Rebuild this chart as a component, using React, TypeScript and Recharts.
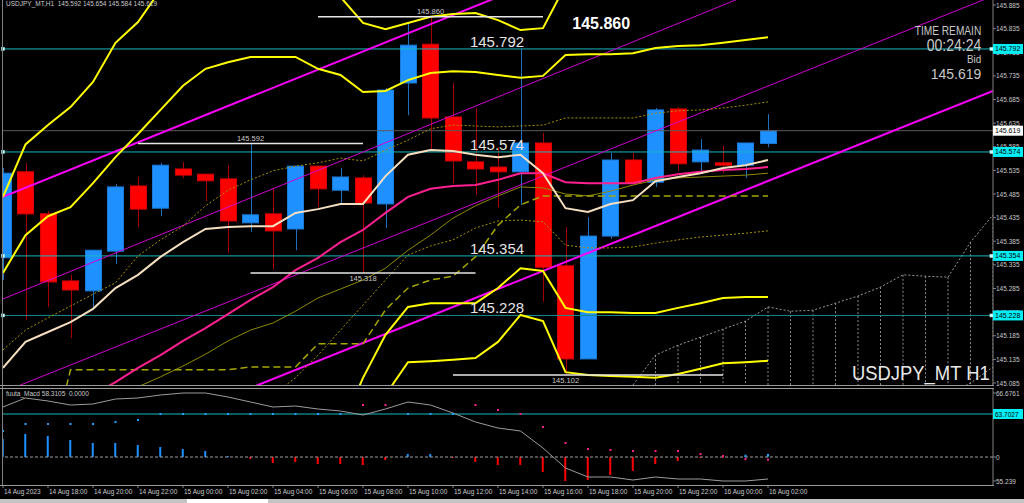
import React from "react";
import {
  Bar,
  Cell,
  ComposedChart,
  Line,
  ReferenceDot,
  ReferenceLine,
  XAxis,
  YAxis,
} from "recharts";

// USDJPY_MT H1, bars from 14 Aug 16:00 to 16 Aug 02:00
const opens = [145.350, 145.532, 145.443, 145.301, 145.280, 145.364, 145.502, 145.455, 145.538, 145.527, 145.517, 145.424, 145.443, 145.411, 145.544, 145.493, 145.519, 145.464, 145.720, 145.802, 145.648, 145.553, 145.542, 145.532, 145.593, 145.333, 145.136, 145.396, 145.557, 145.510, 145.665, 145.553, 145.551, 145.546, 145.592];
const highs = [145.540, 145.551, 145.449, 145.314, 145.366, 145.506, 145.521, 145.551, 145.553, 145.527, 145.546, 145.592, 145.498, 145.544, 145.544, 145.540, 145.525, 145.709, 145.847, 145.860, 145.720, 145.667, 145.584, 145.792, 145.614, 145.415, 145.436, 145.572, 145.572, 145.667, 145.669, 145.601, 145.587, 145.593, 145.654];
const lows = [145.303, 145.218, 145.246, 145.180, 145.246, 145.337, 145.415, 145.438, 145.519, 145.470, 145.360, 145.405, 145.325, 145.366, 145.457, 145.466, 145.318, 145.413, 145.652, 145.578, 145.508, 145.483, 145.457, 145.462, 145.257, 145.102, 145.136, 145.390, 145.508, 145.500, 145.534, 145.529, 145.529, 145.519, 145.584];
const closes = [145.529, 145.443, 145.299, 145.282, 145.366, 145.500, 145.453, 145.546, 145.525, 145.513, 145.428, 145.441, 145.407, 145.544, 145.496, 145.521, 145.466, 145.705, 145.800, 145.646, 145.555, 145.538, 145.532, 145.593, 145.330, 145.136, 145.396, 145.557, 145.508, 145.663, 145.549, 145.578, 145.546, 145.593, 145.619];

// indicator lines
const maFast = [145.117, 145.172, 145.193, 145.214, 145.242, 145.286, 145.314, 145.352, 145.383, 145.411, 145.415, 145.417, 145.417, 145.445, 145.453, 145.464, 145.464, 145.523, 145.568, 145.578, 145.576, 145.568, 145.563, 145.568, 145.529, 145.455, 145.447, 145.464, 145.472, 145.512, 145.521, 145.529, 145.540, 145.546, 145.557];
const bbMid = [144.975, 144.990, 145.007, 145.028, 145.060, 145.087, 145.117, 145.144, 145.174, 145.201, 145.231, 145.261, 145.288, 145.324, 145.350, 145.383, 145.409, 145.445, 145.479, 145.496, 145.502, 145.504, 145.515, 145.529, 145.529, 145.510, 145.508, 145.508, 145.508, 145.519, 145.527, 145.532, 145.536, 145.538, 145.542];
const bbUp1 = [145.155, 145.197, 145.223, 145.248, 145.273, 145.297, 145.354, 145.388, 145.417, 145.460, 145.493, 145.515, 145.534, 145.544, 145.551, 145.561, 145.555, 145.578, 145.599, 145.623, 145.631, 145.629, 145.627, 145.629, 145.631, 145.646, 145.646, 145.646, 145.646, 145.656, 145.661, 145.663, 145.667, 145.673, 145.680];
const bbLow1 = [null, null, null, null, null, null, null, null, null, null, null, 145.007, 145.060, 145.096, 145.144, 145.197, 145.250, 145.303, 145.356, 145.375, 145.388, 145.413, 145.428, 145.430, 145.426, 145.377, 145.371, 145.371, 145.373, 145.381, 145.388, 145.394, 145.398, 145.402, 145.407];
const bbUp2 = [145.318, 145.398, 145.438, 145.457, 145.508, 145.563, 145.612, 145.663, 145.714, 145.750, 145.764, 145.775, 145.775, 145.775, 145.750, 145.737, 145.701, 145.703, 145.726, 145.741, 145.745, 145.743, 145.737, 145.731, 145.735, 145.779, 145.781, 145.781, 145.783, 145.794, 145.798, 145.800, 145.805, 145.811, 145.817];
const bbLow2 = [null, null, null, null, null, null, null, null, null, null, null, null, null, null, null, 144.986, 145.096, 145.187, 145.246, 145.254, 145.254, 145.254, 145.286, 145.328, 145.322, 145.244, 145.235, 145.235, 145.233, 145.233, 145.244, 145.254, 145.265, 145.267, 145.267];
const bbUp3 = [145.479, 145.590, 145.631, 145.669, 145.722, 145.805, 145.849, 145.917, 145.980, 146.023, 146.044, 146.044, 146.033, 145.980, 145.927, 145.902, 145.847, 145.834, 145.847, 145.860, 145.866, 145.868, 145.853, 145.832, 145.836, 145.927, 145.927, 145.934, 145.938, 145.948, 145.955, 145.959, 145.963, 145.970, 145.976];
const bbLow3 = [null, null, null, null, null, null, null, null, null, null, null, null, null, null, null, null, null, 145.060, 145.129, 145.131, 145.134, 145.138, 145.172, 145.229, 145.216, 145.108, 145.102, 145.100, 145.098, 145.096, 145.104, 145.115, 145.127, 145.129, 145.132];
const maSlow = [null, null, null, null, null, 145.049, 145.077, 145.098, 145.121, 145.146, 145.174, 145.197, 145.212, 145.237, 145.265, 145.284, 145.303, 145.328, 145.366, 145.398, 145.434, 145.460, 145.481, 145.500, 145.498, 145.485, 145.481, 145.491, 145.504, 145.515, 145.519, 145.521, 145.523, 145.525, 145.529];
const kijun = [null, null, 144.920, 145.113, 145.113, 145.113, 145.113, 145.113, 145.113, 145.113, 145.113, 145.119, 145.119, 145.119, 145.168, 145.168, 145.168, 145.240, 145.286, 145.303, 145.311, 145.352, 145.419, 145.462, 145.481, 145.481, 145.481, 145.481, 145.481, 145.481, 145.481, 145.481, 145.481, 145.481, 145.481];
const cloudA = [null, null, null, null, null, null, null, null, null, null, null, null, null, null, null, null, null, null, null, null, null, null, null, null, null, null, null, null, 145.081, 145.144, 145.165, 145.182, 145.199, 145.216, 145.246, 145.237, 145.239, 145.254, 145.269, 145.288, 145.314, 145.311, 145.309, 145.383, 145.441];
const cloudB = [null, null, null, null, null, null, null, null, null, null, null, null, null, null, null, null, null, null, null, null, null, null, null, null, null, null, null, null, null, null, null, null, null, null, null, null, null, null, null, null, null, null, 145.060, 145.085, 145.119];

// trend lines: price at bar 0 and at bar 44
const trendFrom = [145.479, 145.263, 145.066, 144.865];
const trendTo = [146.325, 146.118, 145.904, 145.703];

const levelPrices = [145.792, 145.574, 145.354, 145.228];
const bidPrice = 145.619;
const priceTicks = [145.085, 145.135, 145.185, 145.235, 145.285, 145.335, 145.385, 145.435, 145.485, 145.535, 145.585, 145.635, 145.685, 145.735, 145.785, 145.835, 145.885];

const extremePrices = [145.860, 145.592, 145.318, 145.102];
const extremeBars = [19, 11, 16, 25];
const extremeFrom = [14, 6, 11, 20];
const extremeTo = [24, 16, 21, 32];
const extremeIsHigh = [true, true, false, false];

// fuuta_Macd sub window
const macdLine = [50, 59, 56, 52, 53, 58, 59, 62, 64, 64, 60, 55, 50, 51, 48, 46, 42, 48, 55, 52, 44, 35, 29, 26, 9, -11, -20, -20, -23, -20, -22, -22, -24, -24, -22];
const macdHist = [18, 23, 21, 17, 14, 14, 12, 10, 8, 6, 1, -2, -6, -5, -7, -7, -8, -3, 3, 3, -1, -5, -8, -8, -15, -24, -23, -18, -14, -7, -4, -1, -0.5, 1, 1];
const signalUp = [26, 33, 33, 33, 33, 35, 37, 43, 43, 43, 43, 43, 43, 43, 43, 43, null, null, 43, 43, 43, null, null, null, null, null, null, null, null, null, null, null, null, 1.3, 2];
const signalDown = [null, null, null, null, null, null, null, null, null, null, null, null, null, null, null, null, 52, 52, null, null, null, 52, 47, 43, 30, 14, 8, 7, 6, 6, 6, 3, 1, -2, -2.7];
const macdTicks = [64, 43, 0, -24];
const macdTickLabels = ["66.6761", "63.7027", "0", "55.239"];
const macdLevel = 43;

const timeTicks = [0, 2, 4, 6, 8, 10, 12, 14, 16, 18, 20, 22, 24, 26, 28, 30, 32, 34];
const timeLabels = ["14 Aug 2023", "14 Aug 18:00", "14 Aug 20:00", "14 Aug 22:00", "15 Aug 00:00", "15 Aug 02:00", "15 Aug 04:00", "15 Aug 06:00", "15 Aug 08:00", "15 Aug 10:00", "15 Aug 12:00", "15 Aug 14:00", "15 Aug 16:00", "15 Aug 18:00", "15 Aug 20:00", "15 Aug 22:00", "16 Aug 00:00", "16 Aug 02:00"];

const SLOTS = 45;
const PRICE_MIN = 145.0808;
const PRICE_MAX = 145.8956;
const AXIS_TEXT = "#c8c8c8";
const BULL = "#1e90ff";
const BEAR = "#ff0000";
const LEVEL_COLORS = ["#17b6be", "#17b6be", "#17b6be", "#158c8e"];
const TREND_WIDTHS = [2, 1, 1, 2];

function Candle(props: any) {
  const { x, y, width, height, payload } = props;
  if (!payload || payload.o == null || x == null || y == null) return null;
  const top = Math.min(y, y + height);
  const span = Math.abs(height);
  const range = payload.h - payload.l;
  const k = range > 0 ? span / range : 0;
  const yOpen = top + (payload.h - payload.o) * k;
  const yClose = top + (payload.h - payload.c) * k;
  const bull = payload.c >= payload.o;
  const bodyTop = Math.min(yOpen, yClose);
  const bodyH = Math.max(1, Math.abs(yOpen - yClose));
  const mid = Math.round(x + width / 2) + 0.5;
  return (
    <g>
      <line x1={mid} x2={mid} y1={top} y2={top + span} stroke={bull ? "#2070c0" : "#a80000"} />
      <rect
        x={Math.round(x) + 0.5}
        y={bodyTop}
        width={width - 1}
        height={bodyH}
        fill={bull ? BULL : BEAR}
        stroke={bull ? "#1a7ad8" : "#d80000"}
      />
    </g>
  );
}

function PriceTick(props: any) {
  const { x, y, payload } = props;
  const v = payload.value;
  const boxed = levelPrices.includes(v) || v === bidPrice;
  if (boxed) {
    return (
      <g>
        <rect x={x - 3} y={y - 5} width={30} height={10} fill={v === bidPrice ? "#ffffff" : "#00eef6"} />
        <text x={x - 1} y={y + 2.5} fontSize={7} fill="#000">
          {v.toFixed(3)}
        </text>
      </g>
    );
  }
  return (
    <text x={x} y={y + 2.5} fontSize={6.5} fill={AXIS_TEXT}>
      {v.toFixed(3)}
    </text>
  );
}

function MacdTick(props: any) {
  const { x, y, payload } = props;
  const idx = macdTicks.indexOf(payload.value);
  const label = macdTickLabels[idx];
  if (payload.value === macdLevel) {
    return (
      <g>
        <rect x={x - 3} y={y - 5} width={30} height={10} fill="#00eef6" />
        <text x={x - 1} y={y + 2.5} fontSize={6.5} fill="#000">
          {label}
        </text>
      </g>
    );
  }
  return (
    <text x={x} y={y + 2.5} fontSize={6.5} fill={AXIS_TEXT}>
      {label}
    </text>
  );
}

function TimeTick(props: any) {
  const { x, y, payload } = props;
  const idx = timeTicks.indexOf(payload.value);
  return (
    <text x={x + 1} y={y + 6} fontSize={6.5} fill={AXIS_TEXT}>
      {timeLabels[idx]}
    </text>
  );
}

function textLabel(text: string, dx: number, dy: number, attrs: any) {
  return (p: any) => {
    const vb = p.viewBox || {};
    const cx = vb.x + (vb.width || 0) / 2;
    const cy = vb.y + (vb.height || 0) / 2;
    return (
      <text x={cx + dx} y={cy + dy} {...attrs}>
        {text}
      </text>
    );
  };
}

function squareDot(p: any) {
  if (p.cx == null || p.cy == null) return <g />;
  return <rect x={p.cx - 1.5} y={p.cy - 1.5} width={3} height={3} fill="#e0ffff" stroke="#9ff" strokeWidth={0.5} />;
}

function signalDot(color: string) {
  return (p: any) => {
    if (p.cy == null || p.value == null || Number.isNaN(p.cy)) return <g key={p.index} />;
    return <rect key={p.index} x={p.cx - 1} y={p.cy - 1} width={2} height={2} fill={color} />;
  };
}

export default function App() {
  const rows = Array.from({ length: SLOTS }, (_, i) => ({
    i,
    o: opens[i] ?? null,
    h: highs[i] ?? null,
    l: lows[i] ?? null,
    c: closes[i] ?? null,
    maFast: maFast[i] ?? null,
    bbMid: bbMid[i] ?? null,
    bbUp1: bbUp1[i] ?? null,
    bbLow1: bbLow1[i] ?? null,
    bbUp2: bbUp2[i] ?? null,
    bbLow2: bbLow2[i] ?? null,
    bbUp3: bbUp3[i] ?? null,
    bbLow3: bbLow3[i] ?? null,
    maSlow: maSlow[i] ?? null,
    kijun: kijun[i] ?? null,
    cloudA: cloudA[i] ?? null,
    cloudB: cloudB[i] ?? null,
  }));

  const macdRows = Array.from({ length: SLOTS }, (_, i) => ({
    i,
    macd: macdLine[i] ?? null,
    hist: macdHist[i] ?? null,
    sigUp: signalUp[i] ?? null,
    sigDn: signalDown[i] ?? null,
  }));

  const cloudBars = rows.filter((r) => r.cloudA != null && r.i > 28);

  const line = (key: string, stroke: string, width: number, dash?: string) => (
    <Line
      key={key}
      dataKey={key}
      stroke={stroke}
      strokeWidth={width}
      strokeDasharray={dash}
      dot={false}
      activeDot={false}
      type="linear"
      isAnimationActive={false}
    />
  );

  return (
    <div
      style={{
        position: "relative",
        width: 1024,
        height: 503,
        background: "#000",
        overflow: "hidden",
        fontFamily: "'Liberation Sans', Arial, sans-serif",
      }}
    >
      <style>{"body{margin:0;background:#000}"}</style>

      <div style={{ position: "absolute", left: 0, top: 0 }}>
        <ComposedChart width={1024} height={389} data={rows} margin={{ top: 0, right: 0, bottom: 4, left: 3 }}>
          <XAxis type="number" dataKey="i" domain={[0, SLOTS - 1]} hide allowDataOverflow />
          <YAxis
            orientation="right"
            type="number"
            domain={[PRICE_MIN, PRICE_MAX]}
            allowDataOverflow
            width={31}
            ticks={[...priceTicks, ...levelPrices, bidPrice]}
            interval={0}
            tick={<PriceTick />}
            tickSize={3}
            tickMargin={0}
            axisLine={{ stroke: "#808080" }}
            tickLine={{ stroke: "#808080" }}
          />

          <Bar dataKey={(d: any) => (d.o == null ? null : [d.l, d.h])} barSize={17} shape={<Candle />} isAnimationActive={false} />

          {cloudBars.map((r) => (
            <ReferenceLine
              key={`cv${r.i}`}
              segment={[
                { x: r.i, y: r.cloudA as number },
                { x: r.i, y: PRICE_MIN },
              ]}
              stroke="#8c8c8c"
              strokeDasharray="2 2"
              ifOverflow="hidden"
            />
          ))}
          {line("cloudA", "#9a9a9a", 1, "2 2")}
          {line("cloudB", "#9a9a9a", 1, "2 2")}

          {levelPrices.map((p, k) => (
            <ReferenceLine key={`lv${k}`} y={p} stroke={LEVEL_COLORS[k]} strokeWidth={1} />
          ))}
          <ReferenceLine y={bidPrice} stroke="#5a5a5a" />

          {trendFrom.map((p, k) => (
            <ReferenceLine
              key={`tr${k}`}
              segment={[
                { x: 0, y: p },
                { x: SLOTS - 1, y: trendTo[k] },
              ]}
              stroke={TREND_WIDTHS[k] > 1 ? "#ff00ff" : "#d000d0"}
              strokeWidth={TREND_WIDTHS[k]}
              ifOverflow="hidden"
            />
          ))}

          {line("bbUp1", "#a89200", 1, "2 2")}
          {line("bbLow1", "#a89200", 1, "2 2")}
          {line("maSlow", "#8e8a00", 1)}
          {line("kijun", "#a6a600", 1.5, "7 4")}
          {line("bbUp3", "#ffff00", 2)}
          {line("bbLow3", "#ffff00", 2)}
          {line("bbUp2", "#ffff00", 2)}
          {line("bbLow2", "#ffff00", 2)}
          {line("bbMid", "#ff2090", 2)}
          {line("maFast", "#f5dfc0", 2)}

          {extremePrices.map((p, k) => (
            <ReferenceLine
              key={`ex${k}`}
              segment={[
                { x: extremeFrom[k], y: p },
                { x: extremeTo[k], y: p },
              ]}
              stroke="#e6e6e6"
              strokeWidth={1.5}
              ifOverflow="hidden"
            />
          ))}
          {extremePrices.map((p, k) => (
            <ReferenceDot
              key={`exl${k}`}
              x={extremeBars[k]}
              y={p}
              r={1}
              fill="none"
              stroke="none"
              label={textLabel(p.toFixed(3), 0, extremeIsHigh[k] ? -2.5 : 8, {
                fontSize: 7.5,
                fill: "#c8c8c8",
                textAnchor: "middle",
              })}
            />
          ))}

          {levelPrices.map((p, k) => (
            <ReferenceDot
              key={`lvl${k}`}
              x={20.75}
              y={p}
              r={1}
              fill="none"
              stroke="none"
              label={textLabel(p.toFixed(3), 0, -2, { fontSize: 15, fill: "#e4e4e4", textAnchor: "start" })}
            />
          ))}
          <ReferenceDot
            x={25.3}
            y={extremePrices[0]}
            r={1}
            fill="none"
            stroke="none"
            label={textLabel(extremePrices[0].toFixed(3), 0, 12, {
              fontSize: 16,
              fontWeight: "bold",
              fill: "#ffffff",
              textAnchor: "start",
            })}
          />
          {levelPrices.map((p, k) => (
            <ReferenceDot key={`sqL${k}`} x={0} y={p} r={2} shape={squareDot} />
          ))}
          {levelPrices.map((p, k) => (
            <ReferenceDot key={`sqR${k}`} x={SLOTS - 1.07} y={p} r={2} shape={squareDot} />
          ))}
        </ComposedChart>
      </div>

      <div style={{ position: "absolute", left: 0, top: 388 }}>
        <ComposedChart width={1024} height={115} data={macdRows} margin={{ top: 1, right: 0, bottom: 0, left: 3 }}>
          <XAxis
            type="number"
            dataKey="i"
            domain={[0, SLOTS - 1]}
            allowDataOverflow
            ticks={timeTicks}
            interval={0}
            height={18}
            tick={<TimeTick />}
            tickSize={3}
            tickMargin={0}
            axisLine={false}
            tickLine={{ stroke: "#808080" }}
          />
          <YAxis
            orientation="right"
            type="number"
            domain={[-28, 68]}
            allowDataOverflow
            width={31}
            ticks={macdTicks}
            interval={0}
            tick={<MacdTick />}
            tickSize={3}
            tickMargin={0}
            axisLine={{ stroke: "#808080" }}
            tickLine={{ stroke: "#808080" }}
          />
          <ReferenceLine y={0} stroke="#a0a0a0" strokeDasharray="3 2" />
          <ReferenceLine y={macdLevel} stroke="#17b6be" />
          <Bar dataKey="hist" barSize={2} isAnimationActive={false}>
            {macdRows.map((r) => (
              <Cell key={r.i} fill={r.hist != null && r.hist >= 0 ? BULL : BEAR} />
            ))}
          </Bar>
          <Line dataKey="macd" stroke="#9c9c9c" strokeWidth={1} dot={false} activeDot={false} isAnimationActive={false} />
          <Line dataKey="sigUp" stroke="none" dot={signalDot("#1aa6ff")} activeDot={false} isAnimationActive={false} />
          <Line dataKey="sigDn" stroke="none" dot={signalDot("#ff2090")} activeDot={false} isAnimationActive={false} />
        </ComposedChart>
      </div>

      {/* window borders */}
      <div style={{ position: "absolute", left: 2, top: 0, width: 1, height: 485, background: "#808080" }} />
      <div style={{ position: "absolute", left: 0, top: 385, width: 994, height: 1, background: "#9a9a9a" }} />
      <div style={{ position: "absolute", left: 0, top: 388, width: 994, height: 1, background: "#9a9a9a" }} />
      <div style={{ position: "absolute", left: 0, top: 485, width: 994, height: 1, background: "#9a9a9a" }} />
      <div style={{ position: "absolute", left: 0, top: 499, width: 1024, height: 4, background: "#c4c4c4" }} />
      <div style={{ position: "absolute", left: 187, top: 499, width: 81, height: 4, background: "#ffffff" }} />

      <div style={{ position: "absolute", left: 6, top: 0, fontSize: 6.5, color: AXIS_TEXT, whiteSpace: "pre" }}>
        {`USDJPY_MT,H1  ${opens[34].toFixed(3)} ${highs[34].toFixed(3)} ${lows[34].toFixed(3)} ${closes[34].toFixed(3)}`}
      </div>
      <div style={{ position: "absolute", left: 6, top: 390, fontSize: 6.5, color: AXIS_TEXT, whiteSpace: "pre" }}>
        {"fuuta_Macd 58.3105  0.0000"}
      </div>

      <div
        style={{
          position: "absolute",
          right: 43,
          top: 24,
          textAlign: "right",
          color: "#c8c8c8",
          lineHeight: 1,
          transformOrigin: "right top",
        }}
      >
        <div style={{ fontSize: 13, transform: "scaleX(0.78)", transformOrigin: "right", height: 13 }}>TIME REMAIN</div>
        <div style={{ fontSize: 16.5, transform: "scaleX(0.85)", transformOrigin: "right", height: 16, marginTop: 0 }}>00:24:24</div>
        <div style={{ fontSize: 11.5, transform: "scaleX(0.86)", transformOrigin: "right", height: 12, marginTop: 1 }}>Bid</div>
        <div style={{ fontSize: 15, transform: "scaleX(0.93)", transformOrigin: "right", height: 15 }}>{bidPrice.toFixed(3)}</div>
      </div>

      <div
        style={{
          position: "absolute",
          right: 34,
          top: 363,
          fontSize: 20,
          color: "#e8e8e8",
          lineHeight: 1,
          transform: "scaleX(0.92)",
          transformOrigin: "right",
          whiteSpace: "pre",
        }}
      >
        USDJPY_MT H1
      </div>
    </div>
  );
}
